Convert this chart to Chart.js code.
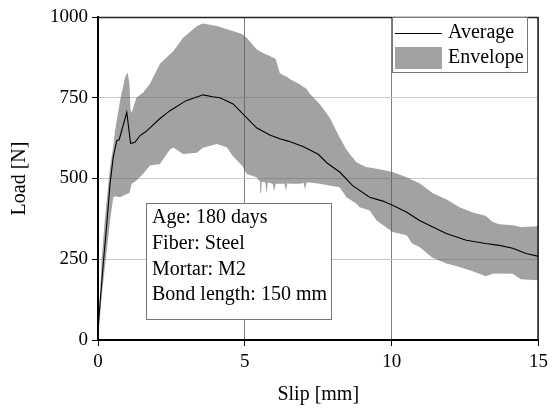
<!DOCTYPE html>
<html>
<head>
<meta charset="utf-8">
<script src="https://cdn.jsdelivr.net/npm/chart.js@4.4.1/dist/chart.umd.min.js"></script>
<style>
  html, body { margin: 0; padding: 0; background: #fff; }
  #wrap { width: 553px; height: 411px; }
</style>
</head>
<body>
<div id="wrap"><canvas id="bond"></canvas></div>
<script>
// mean pull-out curve
const avgSlip = [0, 0.06, 0.18, 0.30, 0.41, 0.52, 0.64, 0.72, 0.98, 1.11, 1.26, 1.43, 1.60, 1.77, 2.10, 2.45, 3.00, 3.58, 3.90, 4.15, 4.60, 5.00, 5.40, 5.85, 6.19, 6.50, 7.00, 7.50, 7.80, 8.23, 8.67, 9.25, 9.70, 10.03, 10.50, 10.95, 11.40, 11.86, 12.54, 13.20, 13.67, 14.12, 14.58, 15.00];
const avgLoad = [30, 103, 237, 360, 484, 566, 617, 620, 705, 608, 612, 633, 643, 657, 685, 710, 741, 759, 753, 750, 731, 694, 657, 635, 623, 615, 598, 575, 548, 520, 478, 442, 430, 417, 396, 370, 350, 330, 309, 299, 293, 284, 268, 259];

// envelope of all specimens (max / min at each slip)
const envSlip = [0, 0.13, 0.24, 0.41, 0.52, 0.58, 0.75, 0.92, 1.01, 1.07, 1.11, 1.15, 1.31, 1.54, 1.77, 2.11, 2.45, 2.57, 2.89, 3.37, 3.57, 4.05, 4.39, 4.59, 4.90, 5.07, 5.40, 5.52, 5.55, 5.58, 5.70, 5.74, 5.78, 5.95, 6.00, 6.05, 6.19, 6.35, 6.40, 6.45, 6.53, 6.87, 7.00, 7.05, 7.10, 7.21, 7.55, 7.89, 8.23, 8.46, 8.57, 8.80, 8.91, 9.15, 9.25, 9.49, 10.03, 10.51, 10.70, 10.95, 11.39, 11.87, 12.31, 12.76, 13.20, 13.44, 13.67, 14.12, 14.40, 15.00];
const envUpper = [0, 257, 380, 535, 600, 648, 741, 813, 828, 793, 710, 705, 751, 766, 793, 855, 885, 895, 935, 972, 980, 972, 962, 957, 947, 935, 900, 893, 892, 891, 885, 884, 882, 875, 873, 870, 827, 818, 816, 814, 808, 792, 783, 781, 778, 762, 731, 688, 627, 590, 576, 550, 545, 535, 534, 530, 520, 504, 495, 485, 455, 435, 411, 395, 385, 365, 358, 355, 350, 352];
const envLower = [0, 140, 230, 370, 442, 445, 442, 450, 453, 455, 470, 484, 494, 515, 540, 545, 590, 596, 576, 580, 595, 607, 596, 570, 540, 514, 504, 490, 455, 490, 488, 452, 488, 484, 460, 484, 484, 484, 462, 485, 484, 484, 486, 466, 488, 488, 484, 478, 473, 442, 436, 422, 411, 404, 401, 370, 334, 324, 299, 288, 255, 237, 226, 213, 197, 205, 206, 205, 188, 185];

const seriesNames = ['Average', 'Envelope'];
const infoLines = ['Age: 180 days', 'Fiber: Steel', 'Mortar: M2', 'Bond length: 150 mm'];

const xTicks = [0, 5, 10, 15];
const yTicks = [0, 250, 500, 750, 1000];

const serif = "'Liberation Serif', 'DejaVu Serif', serif";
const bandFill = 'rgba(90,90,90,0.56)';

const toPts = (xs, ys) => xs.map((x, i) => ({ x: x, y: ys[i] }));

// frame, legend box and specimen info box
const boxes = {
  id: 'boxes',
  afterDraw(chart) {
    const { ctx, chartArea: a } = chart;
    ctx.save();
    // thin frame on top and right
    ctx.strokeStyle = '#222';
    ctx.lineWidth = 1.5;
    ctx.beginPath();
    ctx.moveTo(a.left, a.top + 0.5);
    ctx.lineTo(a.right - 0.5, a.top + 0.5);
    ctx.lineTo(a.right - 0.5, a.bottom);
    ctx.stroke();

    ctx.font = '20px ' + serif;
    ctx.textBaseline = 'middle';
    ctx.textAlign = 'left';

    // legend
    const lx = 392, ly = 17, lw = 135, lh = 55;
    ctx.fillStyle = '#fff';
    ctx.fillRect(lx, ly, lw, lh);
    ctx.strokeStyle = '#777';
    ctx.lineWidth = 1;
    ctx.strokeRect(lx + 0.5, ly + 0.5, lw, lh);
    ctx.strokeStyle = '#000';
    ctx.lineWidth = 1;
    ctx.beginPath();
    ctx.moveTo(lx + 3, ly + 16.5);
    ctx.lineTo(lx + 50, ly + 16.5);
    ctx.stroke();
    ctx.fillStyle = bandFill;
    ctx.fillRect(lx + 3, ly + 30, 47, 22);
    ctx.fillStyle = '#000';
    ctx.fillText(seriesNames[0], lx + 56, ly + 16);
    ctx.fillText(seriesNames[1], lx + 56, ly + 41);

    // specimen info
    const bx = 146, by = 203, bw = 185, bh = 116;
    ctx.fillStyle = '#fff';
    ctx.fillRect(bx, by, bw, bh);
    ctx.strokeStyle = '#777';
    ctx.lineWidth = 1;
    ctx.strokeRect(bx + 0.5, by + 0.5, bw, bh);
    ctx.fillStyle = '#000';
    infoLines.forEach((t, i) => ctx.fillText(t, bx + 6, by + 15 + i * 25.7));
    ctx.restore();
  }
};

new Chart(document.getElementById('bond'), {
  type: 'line',
  data: {
    datasets: [
      {
        label: seriesNames[0],
        data: toPts(avgSlip, avgLoad),
        borderColor: '#000',
        borderWidth: 1.1,
        pointRadius: 0,
        tension: 0,
        fill: false
      },
      {
        label: seriesNames[1],
        data: toPts(envSlip, envUpper),
        borderColor: 'rgba(0,0,0,0)',
        borderWidth: 0,
        backgroundColor: bandFill,
        pointRadius: 0,
        tension: 0,
        fill: '+1'
      },
      {
        label: 'lower',
        data: toPts(envSlip, envLower),
        borderColor: 'rgba(0,0,0,0)',
        borderWidth: 0,
        pointRadius: 0,
        tension: 0,
        fill: false
      }
    ]
  },
  options: {
    responsive: true,
    maintainAspectRatio: false,
    animation: false,
    events: [],
    layout: { padding: { left: 0, right: 14, top: 17, bottom: 0 } },
    plugins: {
      legend: { display: false },
      tooltip: { enabled: false }
    },
    scales: {
      x: {
        type: 'linear',
        min: 0,
        max: 15,
        afterBuildTicks: s => { s.ticks = xTicks.map(v => ({ value: v })); },
        afterFit: s => { s.height = 71; },
        grid: { color: '#808080', lineWidth: 1, tickLength: 6, tickColor: '#000' },
        border: { color: '#000', width: 2 },
        ticks: { color: '#000', font: { family: serif, size: 19 }, padding: 5, maxRotation: 0, callback: v => String(v) },
        title: { display: true, text: 'Slip [mm]', color: '#000', font: { family: serif, size: 20 }, padding: { top: 10 } }
      },
      y: {
        min: 0,
        max: 1000,
        afterBuildTicks: s => { s.ticks = yTicks.map(v => ({ value: v })); },
        afterFit: s => { s.width = 98; },
        grid: { color: '#c8c8c8', lineWidth: 1, tickLength: 6, tickColor: '#000' },
        border: { color: '#000', width: 2 },
        ticks: { color: '#000', font: { family: serif, size: 19 }, padding: 4, callback: v => String(v) },
        title: { display: true, text: 'Load [N]', color: '#000', font: { family: serif, size: 20 }, padding: { top: 8, bottom: 4 } }
      }
    }
  },
  plugins: [boxes]
});
</script>
</body>
</html>
